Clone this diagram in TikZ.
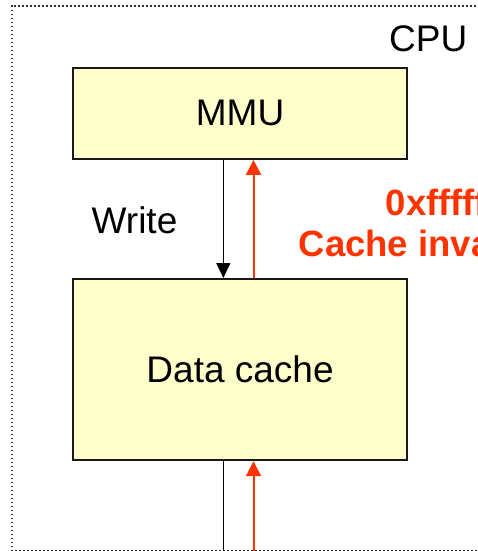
\documentclass[tikz,border=0pt]{standalone}
\usepackage{fontspec}
\setmainfont{Liberation Sans}
\usetikzlibrary{arrows.meta}
\definecolor{boxfill}{HTML}{FFFFCC}
\definecolor{invred}{HTML}{FF3300}
\definecolor{framegray}{HTML}{303030}
\tikzset{
  unitbox/.style={draw=black!90, line width=2.2pt, fill=boxfill, inner sep=0pt},
  lbl/.style={font=\fontsize{37}{44}\selectfont, inner sep=0pt},
  redlbl/.style={font=\fontsize{36.5}{44}\selectfont\bfseries, text=invred, inner sep=0pt},
  writearrow/.style={draw=black, line width=1.3pt, -{Triangle[width=14pt,length=15pt]}},
  invarrow/.style={draw=invred, line width=2pt, -{Triangle[width=15pt,length=15pt]}},
  frameline/.style={draw=framegray, line width=1.6pt, dash pattern=on 1.6pt off 2.4pt}
}
\begin{document}
\begin{tikzpicture}[x=1pt,y=-1pt]
\useasboundingbox (0,0) rectangle (478,551);
\clip (0,0) rectangle (478,551);
% CPU boundary (runs on past the right edge)
\draw[frameline] (520,6) -- (11.7,6) -- (11.7,550.3) -- (520,550.3);
\node[lbl, anchor=base west] (cpu) at (389,52) {CPU};
% units
\node[unitbox, minimum width=333.5pt, minimum height=91pt, anchor=north west] (mmu) at (72.2,66.7) {};
\node[lbl] at (mmu.center) {MMU};
\node[unitbox, minimum width=333.5pt, minimum height=181pt, anchor=north west] (dc) at (72.2,278) {};
\node[lbl] at (dc.center) {Data cache};
% external side of the cache
\coordinate (bw) at (223.3,560);
\coordinate (br) at (253.5,560);
% connectors
\draw[writearrow] (mmu.south -| bw) -- (dc.north -| bw);
\draw[invarrow] (dc.north -| br) -- (mmu.south -| br);
\draw[draw=black, line width=1.3pt] (dc.south -| bw) -- (bw);
\draw[invarrow] (br) -- (dc.south -| br);
% labels
\node[lbl, anchor=base west] (wr) at (91.5,233.3) {Write};
\node[redlbl, anchor=base west] (addr) at (385.5,215.5) {0xffffffff};
\node[redlbl, anchor=base west] (inv) at (298.5,256) {Cache invalidation};
\end{tikzpicture}
\end{document}
